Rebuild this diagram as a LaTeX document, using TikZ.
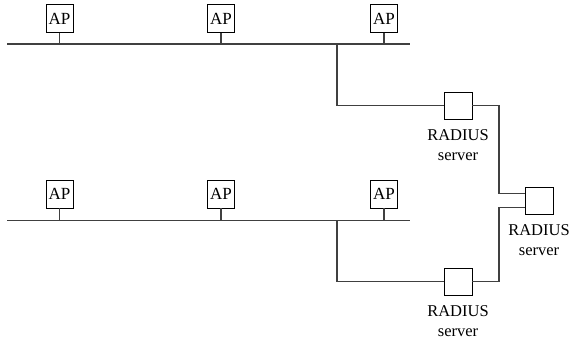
\documentclass[tikz,border=0pt]{standalone}
\usepackage{fontspec}
\setmainfont{Liberation Serif}
\begin{document}
\begin{tikzpicture}[x=1pt,y=-1pt,
  wire/.style={draw=black!75,line width=1.1pt},
  apbox/.style={draw,line width=0.9pt,minimum width=27pt,minimum height=28pt,inner sep=0pt,
    font=\fontsize{17}{20}\selectfont},
  srvbox/.style={draw,line width=0.9pt,minimum width=28pt,minimum height=27pt,inner sep=0pt},
  srvlbl/.style={anchor=north,inner sep=0pt,align=center,font=\fontsize{16.5}{20}\selectfont}]
\useasboundingbox (0,0) rectangle (575,339);

% upper LAN segment
\coordinate (busAw) at (7,44);
\coordinate (busAe) at (410,44);
\draw[wire] (busAw) -- (busAe);
\node[apbox] (apA1) at (59.5,18.5) {AP};
\node[apbox] (apA2) at (221,18.5) {AP};
\node[apbox] (apA3) at (384,18.5) {AP};
\foreach \n in {apA1,apA2,apA3} \draw[wire] (\n.south) -- (\n.south |- busAw);

% lower LAN segment
\coordinate (busBw) at (7,220.5);
\coordinate (busBe) at (410,220.5);
\draw[wire] (busBw) -- (busBe);
\node[apbox] (apB1) at (59.5,194) {AP};
\node[apbox] (apB2) at (221,194) {AP};
\node[apbox] (apB3) at (384,194) {AP};
\foreach \n in {apB1,apB2,apB3} \draw[wire] (\n.south) -- (\n.south |- busBw);

% RADIUS servers
\node[srvbox] (srvA) at (458,105.5) {};
\node[srvbox] (srvP) at (539,200.5) {};
\node[srvbox] (srvB) at (458,281.5) {};
\node[srvlbl] (lblA) at ([yshift=-10pt]srvA.south) {RADIUS\\server};
\node[srvlbl] (lblP) at ([yshift=-10pt]srvP.south) {RADIUS\\server};
\node[srvlbl] (lblB) at ([yshift=-10pt]srvB.south) {RADIUS\\server};

% uplinks
\coordinate (tapA) at (337,44);
\coordinate (tapB) at (337,220.5);
\draw[wire] (tapA) |- (srvA.west);
\draw[wire] (tapB) |- (srvB.west);
\coordinate (jA) at (499,105.5);
\coordinate (jB) at (499,281.5);
\draw[wire] (srvA.east) -- (jA) |- ([yshift=7pt]srvP.west);
\draw[wire] (srvB.east) -- (jB) |- ([yshift=-7pt]srvP.west);
\end{tikzpicture}
\end{document}
